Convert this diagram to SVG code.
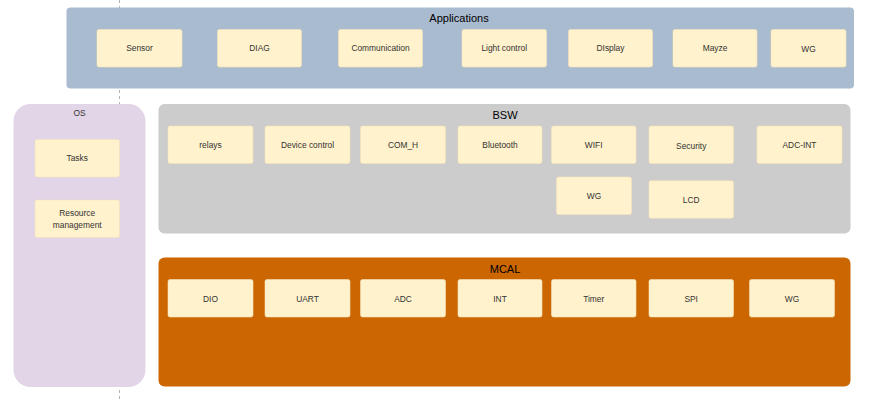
<svg xmlns="http://www.w3.org/2000/svg" width="870" height="402" viewBox="0 0 870 402">
<style>
.node rect{fill:#FFF2CC;stroke:#F5E3B8;stroke-width:0.6}
.node text{font-family:"Liberation Sans",Arial,sans-serif;font-size:8.4px;fill:#333333;text-anchor:middle;dominant-baseline:central}
.title{font-family:"Liberation Sans",Arial,sans-serif;font-size:11px;fill:#000000;text-anchor:middle;dominant-baseline:central}
.small{font-size:8.4px;fill:#333333}
</style>
<rect width="870" height="402" fill="#FFFFFF"/>
<g id="connectors">
<line x1="119.5" y1="0" x2="119.5" y2="402" stroke="#A0A0A0" stroke-width="0.8" stroke-dasharray="3,3"/>
</g>
<g id="applications">
<rect x="66.5" y="7.5" width="787.5" height="81" rx="4" fill="#A9BBCF"/>
<text class="title" x="459" y="18">Applications</text>
</g>
<g id="app-sensor" class="node"><rect x="97" y="29.5" width="85" height="37.5" rx="2"/><text x="139.5" y="48.2">Sensor</text></g>
<g id="app-diag" class="node"><rect x="217.5" y="29.5" width="84" height="37.5" rx="2"/><text x="259.5" y="48.2">DIAG</text></g>
<g id="app-communication" class="node"><rect x="338.5" y="29.5" width="84" height="37.5" rx="2"/><text x="380.5" y="48.2">Communication</text></g>
<g id="app-light" class="node"><rect x="462" y="29.5" width="84.5" height="37.5" rx="2"/><text x="504.2" y="48.2">Light control</text></g>
<g id="app-display" class="node"><rect x="568.5" y="29.5" width="84" height="37.5" rx="2"/><text x="610.5" y="48.2">DIsplay</text></g>
<g id="app-mayze" class="node"><rect x="673" y="29.5" width="84" height="37.5" rx="2"/><text x="715" y="48.2">Mayze</text></g>
<g id="app-wg" class="node"><rect x="771" y="29.5" width="75" height="37.5" rx="2"/><text x="808.5" y="48.5">WG</text></g>

<g id="os">
<rect x="13.5" y="104" width="132" height="283" rx="17" fill="#E1D5E7"/>
<text class="title small" x="79.5" y="113">OS</text>
</g>
<g id="os-tasks" class="node"><rect x="35" y="139.5" width="84.5" height="37.5" rx="2"/><text x="77.2" y="158.2">Tasks</text></g>
<g id="os-resource" class="node"><rect x="35" y="200" width="84.5" height="37.5" rx="2"/><text x="77.2" y="213">Resource</text><text x="77.2" y="224.5">management</text></g>

<g id="bsw">
<rect x="158.5" y="104" width="692" height="129.5" rx="6" fill="#CCCCCC"/>
<text class="title" x="505" y="115">BSW</text>
</g>
<g id="bsw-relays" class="node"><rect x="168" y="126" width="85" height="37.5" rx="2"/><text x="210.5" y="145">relays</text></g>
<g id="bsw-device" class="node"><rect x="265" y="126" width="85" height="37.5" rx="2"/><text x="307.5" y="145">Device control</text></g>
<g id="bsw-comh" class="node"><rect x="360.5" y="126" width="85" height="37.5" rx="2"/><text x="403" y="145">COM_H</text></g>
<g id="bsw-bluetooth" class="node"><rect x="458" y="126" width="84" height="37.5" rx="2"/><text x="500" y="145">Bluetooth</text></g>
<g id="bsw-wifi" class="node"><rect x="551.5" y="126" width="84.5" height="37.5" rx="2"/><text x="593.7" y="145">WIFI</text></g>
<g id="bsw-security" class="node"><rect x="649" y="126" width="84.5" height="37.5" rx="2"/><text x="691.2" y="145.5">Security</text></g>
<g id="bsw-adcint" class="node"><rect x="757" y="126" width="85" height="37.5" rx="2"/><text x="799.5" y="145">ADC-INT</text></g>
<g id="bsw-wg" class="node"><rect x="556.5" y="177" width="75" height="37.5" rx="2"/><text x="594" y="196">WG</text></g>
<g id="bsw-lcd" class="node"><rect x="649" y="180.7" width="84.5" height="37.5" rx="2"/><text x="691.2" y="200">LCD</text></g>

<g id="mcal">
<rect x="158.5" y="257.5" width="692" height="129" rx="6" fill="#CC6600"/>
<text class="title" x="505" y="269" fill="#1a0d00">MCAL</text>
</g>
<g id="mcal-dio" class="node"><rect x="168" y="279.5" width="85" height="37.5" rx="2"/><text x="210.5" y="298.5">DIO</text></g>
<g id="mcal-uart" class="node"><rect x="265" y="279.5" width="85" height="37.5" rx="2"/><text x="307.5" y="298.5">UART</text></g>
<g id="mcal-adc" class="node"><rect x="360.5" y="279.5" width="85" height="37.5" rx="2"/><text x="403" y="298.5">ADC</text></g>
<g id="mcal-int" class="node"><rect x="458" y="279.5" width="84" height="37.5" rx="2"/><text x="500" y="298.5">INT</text></g>
<g id="mcal-timer" class="node"><rect x="551.5" y="279.5" width="84.5" height="37.5" rx="2"/><text x="593.7" y="298.5">Timer</text></g>
<g id="mcal-spi" class="node"><rect x="649" y="279.5" width="84.5" height="37.5" rx="2"/><text x="691.2" y="298.5">SPI</text></g>
<g id="mcal-wg" class="node"><rect x="749.5" y="279.5" width="85" height="37.5" rx="2"/><text x="792" y="298.5">WG</text></g>
</svg>
